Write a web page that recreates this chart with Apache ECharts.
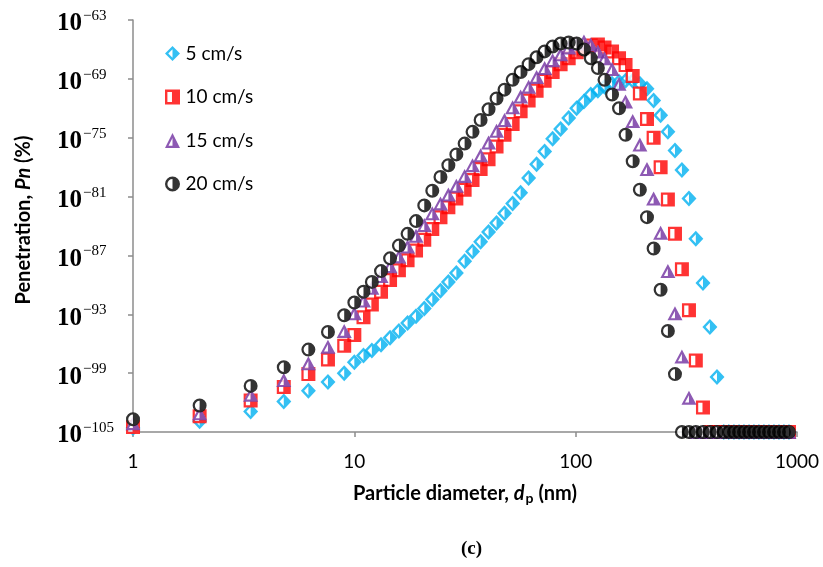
<!DOCTYPE html>
<html>
<head>
<meta charset="utf-8">
<title>Penetration vs particle diameter</title>
<script src="https://cdn.jsdelivr.net/npm/echarts@6/dist/echarts.min.js"></script>
<style>
    html, body { margin: 0; padding: 0; background: #fff; }
    #chart { width: 823px; height: 567px; }
</style>
</head>
<body>
<div id="chart"></div>
<script>
// particle diameter dp (nm)
var dp = [1, 2, 3.4, 4.8, 6.2, 7.6, 9, 10, 11, 12, 13.2, 14.5, 15.9, 17.4, 19, 20.7, 22.5, 24.5, 26.6, 28.9,
    31.5, 34.2, 37.2, 40.4, 43.9, 47.7, 51.9, 56.4, 61.3, 66.6, 72.4, 78.7, 85.5, 93, 101, 109, 117, 126, 135, 146,
    157, 168, 181, 195, 210, 225, 242, 261, 281, 302, 325, 349, 376, 404, 435, 467, 492, 519, 547, 576,
    607, 639, 673, 709, 747, 787, 829, 873, 920];

// penetration, given as the exponent n of Pn = 10^n (%)
var pn5 = [-104.6, -103.9, -102.9, -101.9, -100.8, -99.9, -99.0, -97.9, -97.2, -96.7, -96.1, -95.4, -94.7, -93.9, -93.2, -92.4, -91.5, -90.6, -89.7, -88.8,
    -87.6, -86.6, -85.6, -84.6, -83.7, -82.7, -81.7, -80.6, -79.1, -77.7, -76.4, -75.1, -74.1, -73.0, -72.0, -71.3, -70.6, -70.2, -69.8, -69.5,
    -69.3, -69.2, -69.2, -69.5, -70.0, -71.2, -72.7, -74.4, -76.3, -78.3, -81.2, -85.3, -89.8, -94.3, -99.4, -105, -105, -105, -105, -105,
    -105, -105, -105, -105, -105, -105, -105, -105, -105];
var pn10 = [-104.5, -103.4, -101.8, -100.4, -99.1, -97.6, -96.2, -95.1, -93.3, -92.0, -90.7, -89.5, -88.5, -87.5, -86.5, -85.4, -84.3, -83.1, -82.1, -81.2,
    -80.3, -79.3, -78.2, -77.2, -75.9, -74.7, -73.6, -72.3, -71.2, -70.2, -69.2, -68.3, -67.5, -66.9, -66.3, -65.9, -65.6, -65.5, -65.8, -66.2,
    -66.9, -67.6, -68.7, -70.5, -73.1, -75.0, -78.0, -81.3, -84.8, -88.4, -92.6, -97.7, -102.5, -105, -105, -105, -105, -105, -105, -105,
    -105, -105, -105, -105, -105, -105, -105, -105, -105];
var pn15 = [-104.1, -103.1, -101.2, -99.7, -98.0, -96.3, -94.7, -92.9, -91.6, -90.3, -89.1, -88.1, -87.1, -86.1, -85.0, -83.9, -82.7, -81.7, -80.8, -79.9,
    -78.9, -77.8, -76.8, -75.5, -74.3, -73.2, -71.9, -70.8, -69.8, -68.8, -67.9, -67.1, -66.5, -65.8, -65.4, -65.2, -65.5, -66.2, -66.9, -68.0,
    -69.5, -71.3, -73.3, -75.7, -78.2, -81.2, -84.7, -88.6, -92.9, -97.3, -101.5, -105, -105, -105, -105, -105, -105, -105, -105, -105,
    -105, -105, -105, -105, -105, -105, -105, -105, -105];
var pn20 = [-103.7, -102.3, -100.3, -98.4, -96.6, -94.8, -93.1, -91.8, -90.7, -89.7, -88.6, -87.3, -86.0, -84.8, -83.5, -81.9, -80.4, -79.0, -77.8, -76.7,
    -75.6, -74.4, -73.2, -72.1, -71.0, -70.1, -69.1, -68.3, -67.5, -66.8, -66.2, -65.7, -65.4, -65.3, -65.4, -66.0, -66.9, -67.9, -69.1, -70.6,
    -72.0, -74.7, -77.4, -80.3, -83.1, -86.3, -90.5, -94.7, -99.1, -105, -105, -105, -105, -105, -105, -105, -105, -105, -105, -105,
    -105, -105, -105, -105, -105, -105, -105, -105, -105];

var seriesNames = ['5 cm/s', '10 cm/s', '15 cm/s', '20 cm/s'];
var xTicks = [1, 10, 100, 1000];
var yExpTicks = [-105, -99, -93, -87, -81, -75, -69, -63];

// half filled markers: outline ring with the left inner half cut out
var DIAMOND = 'path://M10,0L20,10L10,20L0,10ZM10,4.4L4.4,10L10,15.6Z';
var SQUARE = 'path://M0,0L20,0L20,20L0,20ZM3.2,3.2L3.2,16.8L9.3,16.8L9.3,3.2Z';
var TRIANGLE = 'path://M10,0L20,20L0,20ZM10,6.6L4.7,17L10,17Z';
var CIRCLE = 'path://M10,0A10,10,0,1,1,10,20A10,10,0,1,1,10,0ZM10,3.2A6.8,6.8,0,0,0,10,16.8Z';

var markers = [
    { data: pn5, color: '#00B0F0', path: DIAMOND, base: 'diamond', size: [15, 16] },
    { data: pn10, color: '#FF0000', path: SQUARE, base: 'rect', size: [14, 14] },
    { data: pn15, color: '#7030A0', path: TRIANGLE, base: 'triangle', size: [15, 14] },
    { data: pn20, color: '#000000', path: CIRCLE, base: 'circle', size: [14, 14] }
];

function toPoints(arr) {
    return dp.map(function (d, i) { return [d, arr[i]]; });
}

var series = [];
var legendData = [];
markers.forEach(function (m, k) {
    var pts = toPoints(m.data);
    // white body under each marker so later series hide earlier ones
    series.push({
        type: 'scatter',
        name: seriesNames[k] + ' body',
        symbol: m.base,
        symbolSize: [m.size[0] - 1, m.size[1] - 1],
        itemStyle: { color: '#fff' },
        silent: true,
        clip: false,
        data: pts
    });
    series.push({
        type: 'scatter',
        name: seriesNames[k],
        symbol: m.path,
        symbolSize: m.size,
        itemStyle: { color: m.color },
        clip: false,
        data: pts
    });
    legendData.push({ name: seriesNames[k], icon: m.path });
});

var chart = echarts.init(document.getElementById('chart'));
var option = {
    animation: false,
    backgroundColor: '#fff',
    title: {
        text: '(c)',
        left: 456,
        top: 535,
        textStyle: { fontFamily: 'Liberation Serif', fontSize: 19, fontWeight: 'bold', color: '#000' }
    },
    legend: {
        orient: 'vertical',
        left: 160,
        top: 39,
        itemWidth: 16,
        itemHeight: 15,
        itemGap: 24.5,
        data: legendData,
        textStyle: { fontFamily: 'Lato', fontSize: 19, color: '#000' }
    },
    grid: {
        left: 133,
        right: 26,
        top: 20,
        bottom: 135,
        containLabel: false
    },
    xAxis: {
        type: 'log',
        logBase: 10,
        min: xTicks[0],
        max: xTicks[xTicks.length - 1],
        name: '{b|Particle diameter, }{i|d}{sub|p}{b| (nm)}',
        nameLocation: 'middle',
        nameGap: 50,
        nameTextStyle: {
            rich: {
                b: { fontFamily: 'Lato', fontSize: 20, fontWeight: 'bold', color: '#000' },
                i: { fontFamily: 'Lato', fontSize: 20, fontWeight: 'bold', fontStyle: 'italic', color: '#000' },
                sub: { fontFamily: 'Lato', fontSize: 14, fontWeight: 'bold', color: '#000', padding: [9, 0, 0, 1] }
            }
        },
        axisLine: { lineStyle: { color: '#8c8c8c', width: 1.5 } },
        axisTick: { show: true, inside: false, length: 5, lineStyle: { color: '#8c8c8c', width: 1.5 } },
        minorTick: { show: false },
        splitLine: { show: false },
        axisLabel: {
            fontFamily: 'Lato',
            fontSize: 19,
            color: '#000',
            margin: 20,
            formatter: function (v) { return String(Math.round(v)); }
        }
    },
    yAxis: {
        type: 'value',
        min: yExpTicks[0],
        max: yExpTicks[yExpTicks.length - 1],
        interval: yExpTicks[1] - yExpTicks[0],
        name: '{b|Penetration, }{i|Pn}{b| (%)}',
        nameLocation: 'middle',
        nameRotate: 90,
        nameGap: 99,
        nameTextStyle: {
            padding: [0, 0, 0, 12],
            rich: {
                b: { fontFamily: 'Lato', fontSize: 20, fontWeight: 'bold', color: '#000' },
                i: { fontFamily: 'Lato', fontSize: 20, fontWeight: 'bold', fontStyle: 'italic', color: '#000' }
            }
        },
        axisLine: { show: true, lineStyle: { color: '#8c8c8c', width: 1.5 } },
        axisTick: { show: true, inside: false, length: 5, lineStyle: { color: '#8c8c8c', width: 1.5 } },
        splitLine: { show: false },
        axisLabel: {
            align: 'left',
            margin: 76,
            formatter: function (v) {
                var e = v < 0 ? '\u2212' + Math.abs(v) : String(v);
                return '{b|10}{s|' + e + '}';
            },
            rich: {
                b: { fontFamily: 'Liberation Serif', fontSize: 25, lineHeight: 25, fontWeight: 'bold', color: '#000', padding: [8, 0, 0, 0] },
                s: { fontFamily: 'Liberation Serif', fontSize: 15, lineHeight: 15, color: '#000', padding: [0, 0, 8, 1] }
            }
        }
    },
    series: series
};
chart.setOption(option);
</script>
</body>
</html>
